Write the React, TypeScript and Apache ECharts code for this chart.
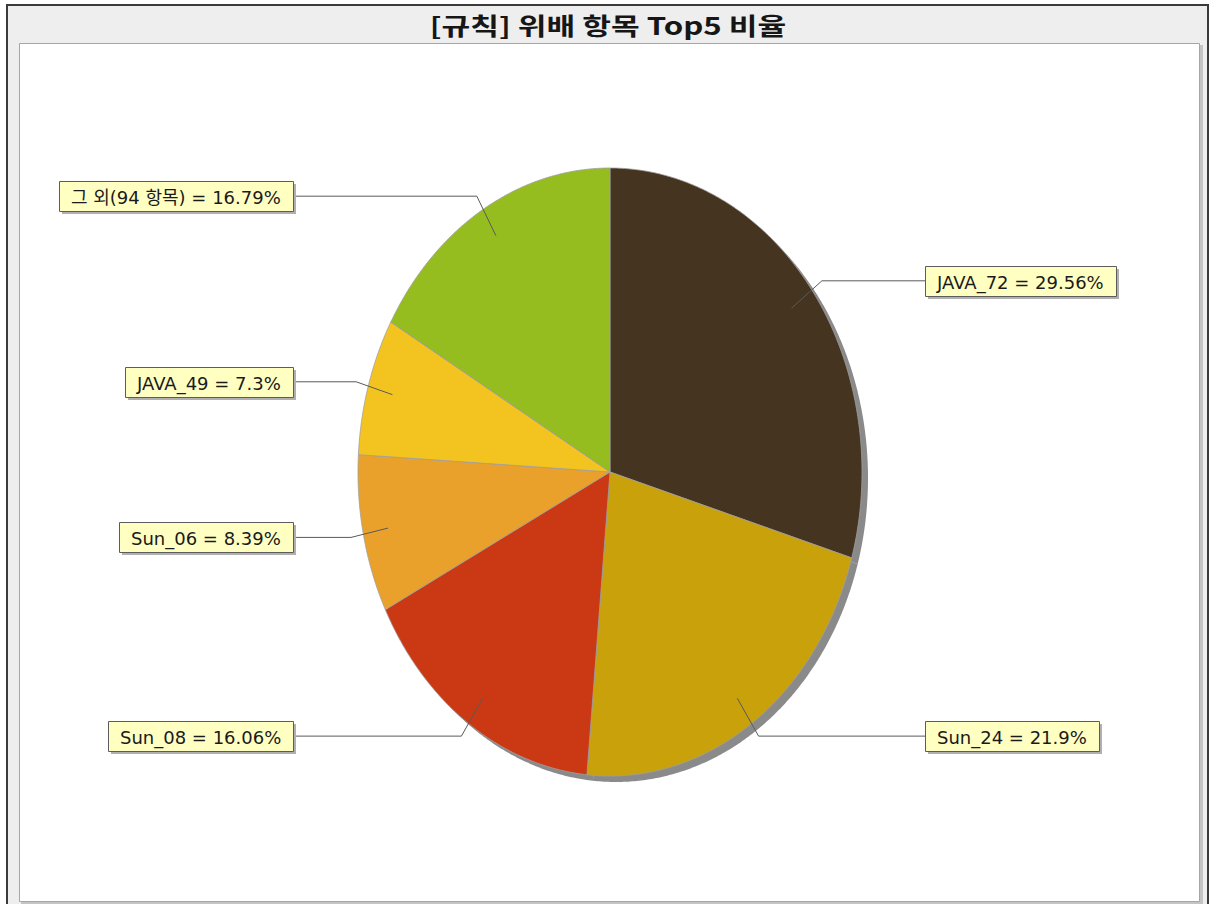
import React, { useEffect, useRef } from "react";
import * as echarts from "echarts";

const categories = ["JAVA_72", "Sun_24", "Sun_08", "Sun_06", "JAVA_49", "그 외(94 항목)"];
const values = [29.56, 21.9, 16.06, 8.39, 7.3, 16.79];
const colors = ["#45341f", "#c8a10b", "#cb3914", "#e9a12b", "#f3c41f", "#95bd1f"];
const titleText = "[규칙] 위배 항목 Top5 비율";

const CX = 610;
const CY = 472;
const RX = 252;
const RY = 304;
const LABEL_FONT = "18px 'DejaVu Sans', 'Noto Sans CJK KR', sans-serif";
const PAD = 12;

const total = values.reduce((a, b) => a + b, 0);
const starts: number[] = [];
{
  let acc = 0;
  values.forEach((v) => {
    starts.push(acc);
    acc += v;
  });
}

function pt(angle: number, f: number): [number, number] {
  return [CX + RX * f * Math.sin(angle), CY - RY * f * Math.cos(angle)];
}

function slicePoints(i: number, dx: number, dy: number) {
  const a0 = (starts[i] / total) * Math.PI * 2;
  const a1 = ((starts[i] + values[i]) / total) * Math.PI * 2;
  const pts: number[][] = [[CX + dx, CY + dy]];
  const n = Math.max(4, Math.ceil(((a1 - a0) * 180) / Math.PI / 0.5));
  for (let k = 0; k <= n; k++) {
    const a = a0 + ((a1 - a0) * k) / n;
    const p = pt(a, 1);
    pts.push([p[0] + dx, p[1] + dy]);
  }
  return pts;
}

let measureCtx: CanvasRenderingContext2D | null = null;
function measure(text: string) {
  if (!measureCtx) measureCtx = document.createElement("canvas").getContext("2d");
  if (!measureCtx) return text.length * 10;
  measureCtx.font = LABEL_FONT;
  return measureCtx.measureText(text).width;
}

export default function App() {
  const ref = useRef<HTMLDivElement>(null);
  useEffect(() => {
    if (!ref.current) return;
    const chart = echarts.init(ref.current, null, { renderer: "svg" });
    const data = values.map((v, i) => ({ value: v, name: categories[i] }));
    chart.setOption({
      animation: false,
      graphic: [
        {
          type: "rect",
          z: -10,
          silent: true,
          shape: { x: 7, y: 5, width: 1201, height: 920 },
          style: { fill: "#eeeeee", stroke: "#3a3a3a", lineWidth: 2 },
        },
        {
          type: "rect",
          z: -9,
          silent: true,
          shape: { x: 21, y: 45, width: 1182, height: 859 },
          style: { fill: "#c4c4c4" },
        },
        {
          type: "rect",
          z: -8,
          silent: true,
          shape: { x: 19.5, y: 43.5, width: 1180, height: 858 },
          style: { fill: "#ffffff", stroke: "#a6a6a6", lineWidth: 1 },
        },
        {
          type: "text",
          z: 10,
          silent: true,
          x: 608,
          y: 25,
          scaleX: 1.3,
          style: {
            text: titleText,
            font: "bold 24px 'Noto Sans CJK KR', sans-serif",
            fill: "#161616",
            align: "center",
            verticalAlign: "middle",
          },
        },
      ],
      series: [
        {
          type: "custom",
          name: "shadow",
          coordinateSystem: "none",
          z: 2,
          silent: true,
          data,
          renderItem: (params: any) => ({
            type: "polygon",
            shape: { points: slicePoints(params.dataIndex, 6, 6) },
            style: { fill: "#8a8a8a" },
          }),
        },
        {
          type: "custom",
          name: "slices",
          coordinateSystem: "none",
          z: 3,
          data,
          renderItem: (params: any) => ({
            type: "polygon",
            shape: { points: slicePoints(params.dataIndex, 0, 0) },
            style: { fill: colors[params.dataIndex], stroke: "#a0a0a0", lineWidth: 0.8 },
          }),
        },
        {
          type: "custom",
          name: "labels",
          coordinateSystem: "none",
          z: 4,
          silent: true,
          data,
          renderItem: (params: any) => {
            const i = params.dataIndex;
            const mid = ((starts[i] + values[i] / 2) / total) * Math.PI * 2;
            const a = pt(mid, 0.9);
            const b = pt(mid, 1.05);
            const right = Math.sin(mid) > 0;
            const text = `${categories[i]} = ${values[i]}%`;
            const w = Math.round(measure(text) + PAD * 2);
            const h = 30;
            const edge = right ? 925 : 293;
            const bx = right ? edge : edge - w;
            const by = Math.round(b[1]) - h / 2;
            return {
              type: "group",
              children: [
                {
                  type: "polyline",
                  shape: { points: [a, b, [edge, b[1]]] },
                  style: { stroke: "#5a5a5a", lineWidth: 1, fill: null },
                },
                {
                  type: "rect",
                  shape: { x: bx + 3, y: by + 3, width: w, height: h },
                  style: { fill: "#b0b0b0" },
                },
                {
                  type: "rect",
                  shape: { x: bx + 0.5, y: by + 0.5, width: w, height: h },
                  style: { fill: "#ffffc2", stroke: "#5c5c5c", lineWidth: 1 },
                },
                {
                  type: "text",
                  x: bx + PAD,
                  y: by + h / 2 + 1,
                  style: {
                    text,
                    font: LABEL_FONT,
                    fill: "#1a1a1a",
                    align: "left",
                    verticalAlign: "middle",
                  },
                },
              ],
            };
          },
        },
      ],
    });
    return () => chart.dispose();
  }, []);
  return (
    <div
      ref={ref}
      style={{ position: "fixed", left: 0, top: 0, width: 1215, height: 904, background: "#ffffff" }}
    />
  );
}
